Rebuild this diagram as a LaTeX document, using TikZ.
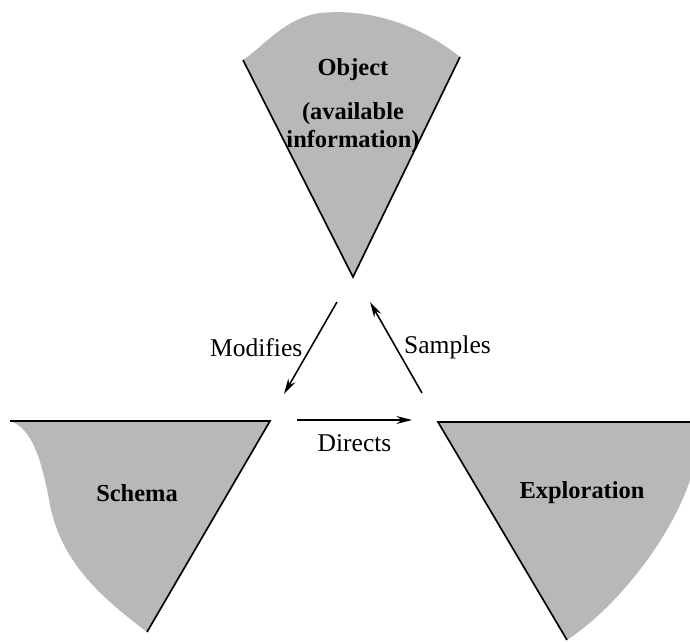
\documentclass[tikz,border=0pt]{standalone}
\usepackage{fontspec}
\setmainfont{Liberation Serif}
\usepackage{tikz}
\usepackage{xcolor}
\usetikzlibrary{arrows.meta}

\begin{document}
\begin{tikzpicture}[>={Stealth[length=7pt,width=3.6pt]}, x=0.45pt, y=-0.45pt,
  shade/.style={fill=black!28},
  edgeline/.style={line width=0.75pt},
  lbl/.style={font=\fontsize{11}{12.5}\selectfont\bfseries, align=center},
  arr/.style={->, line width=0.7pt},
  arrlbl/.style={font=\fontsize{11.5}{14}\selectfont}]
  \useasboundingbox (0,0) rectangle (690,642);

  %coordinates
  \coordinate (ObjL)   at (243,60);
  \coordinate (ObjR)   at (460,57);
  \coordinate (ObjTip) at (353,277);
  \coordinate (SchL)   at (10,421);
  \coordinate (SchR)   at (270,421);
  \coordinate (SchTip) at (147,632);
  \coordinate (ExpL)   at (438,422);
  \coordinate (ExpR)   at (690,422);
  \coordinate (ExpTip) at (567,640);

  \coordinate (ModA) at (337,302);
  \coordinate (ModB) at (284,394);
  \coordinate (SamA) at (422,393);
  \coordinate (SamB) at (370,302);
  \coordinate (DirA) at (297,420);
  \coordinate (DirB) at (412,420);

  %shapes
  \fill[shade] (ObjL) .. controls (265,45) and (285,18) .. (320,13)
    .. controls (370,8) and (420,25) .. (ObjR) -- (ObjTip) -- cycle;
  \draw[edgeline] (ObjL) -- (ObjTip) -- (ObjR);

  \fill[shade] (SchL) -- (SchR) -- (SchTip)
    .. controls (105,600) and (62,565) .. (50,505)
    .. controls (42,460) and (32,428) .. cycle;
  \draw[edgeline] (SchL) -- (SchR) -- (SchTip);

  \fill[shade] (ExpL) -- (ExpR) -- (690,480)
    .. controls (672,535) and (620,605) .. (ExpTip) -- cycle;
  \draw[edgeline] (ExpTip) -- (ExpL) -- (ExpR);

  %nodes
  \node[lbl] (obj)    at (353,70)  {Object};
  \node[lbl] (objinf) at (353,128) {(available\\information)};
  \node[lbl] (schema) at (137,493) {Schema};
  \node[lbl] (explo)  at (582,493) {Exploration};

  %arrows
  \draw[arr] (ModA) -- node[arrlbl, left] (mod) {Modifies} (ModB);
  \draw[arr] (SamA) -- node[arrlbl, right] (sam) {Samples} (SamB);
  \draw[arr] (DirA) -- node[arrlbl, below=3pt] (dir) {Directs} (DirB);

\end{tikzpicture}
\end{document}
